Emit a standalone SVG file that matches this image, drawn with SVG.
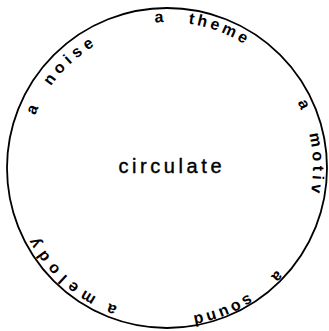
<svg xmlns="http://www.w3.org/2000/svg" width="329" height="331" viewBox="0 0 329 331">
  <style>
    .ring { fill: none; stroke: #000; stroke-width: 1.8; }
    .edge { font-family: "Liberation Sans", "DejaVu Sans", sans-serif; font-size: 16px; font-weight: bold; fill: #000; text-anchor: middle; }
    .center { font-family: "Liberation Sans", "DejaVu Sans", sans-serif; font-size: 20px; fill: #000; stroke: #000; stroke-width: 0.4; text-anchor: middle; }
  </style>
  <defs>
    <path id="p146" d="M21,168 A146,146 0 1 1 313,168 A146,146 0 1 1 21,168"/>
    <path id="p150" d="M17,168 A150,150 0 1 1 317,168 A150,150 0 1 1 17,168"/>
    <path id="p147" d="M20,168 A147,147 0 1 1 314,168 A147,147 0 1 1 20,168"/>
    <path id="p142" d="M25,168 A142,142 0 1 1 309,168 A142,142 0 1 1 25,168"/>
  </defs>
  <g id="connectors"></g>
  <g id="ring">
    <circle class="ring" cx="167" cy="168" r="160"/>
  </g>
  <g id="center">
    <text class="center" x="170" y="173" textLength="103" lengthAdjust="spacing">circulate</text>
  </g>
  <g id="theme">
    <text class="edge"><textPath href="#p146" startOffset="221.4">a</textPath></text>
    <text class="edge"><textPath href="#p146" startOffset="280.6" textLength="60" lengthAdjust="spacing">theme</textPath></text>
  </g>
  <g id="motiv">
    <text class="edge"><textPath href="#p146" startOffset="395">a</textPath></text>
    <text class="edge"><textPath href="#p146" startOffset="453.6" textLength="59" lengthAdjust="spacing">motiv</textPath></text>
  </g>
  <g id="sound">
    <text class="edge"><textPath href="#p150" startOffset="587.7">a</textPath></text>
    <text class="edge"><textPath href="#p150" startOffset="650.6" textLength="60" lengthAdjust="spacing">sound</textPath></text>
  </g>
  <g id="melody">
    <text class="edge"><textPath href="#p147" startOffset="747.4">a</textPath></text>
    <text class="edge"><textPath href="#p147" startOffset="809" textLength="86" lengthAdjust="spacing">melody</textPath></text>
  </g>
  <g id="noise">
    <text class="edge"><textPath href="#p142" startOffset="58.2">a</textPath></text>
    <text class="edge"><textPath href="#p142" startOffset="117" textLength="60" lengthAdjust="spacing">noise</textPath></text>
  </g>
</svg>
